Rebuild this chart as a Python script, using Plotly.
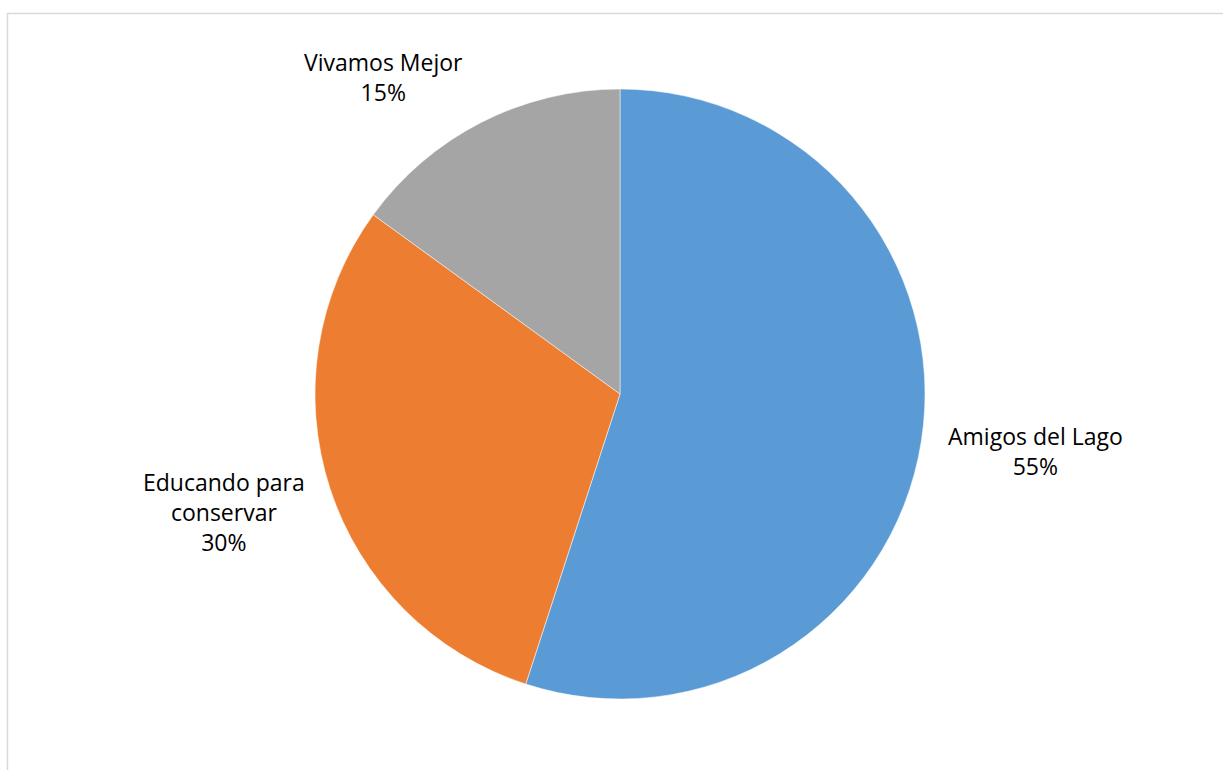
import plotly.graph_objects as go

W, H = 1223, 770

labels = ["Amigos del Lago", "Educando para conservar", "Vivamos Mejor"]
values = [55, 30, 15]
colors = ["#5B9BD5", "#ED7D31", "#A5A5A5"]
# label text as shown in the chart (with line breaks)
label_text = ["Amigos del Lago", "Educando para<br>conservar", "Vivamos Mejor"]

# where the data labels sit (pixels, from top-left)
label_xy = [(1035, 451), (224, 512), (383, 77)]

cx, cy, r = 620, 394, 305

fig = go.Figure()
fig.add_trace(go.Pie(
    labels=labels,
    values=values,
    sort=False,
    direction="clockwise",
    rotation=0,
    marker=dict(colors=colors, line=dict(color="white", width=0.5)),
    textinfo="none",
    hoverinfo="label+percent",
    showlegend=False,
    domain=dict(x=[(cx - r) / W, (cx + r) / W],
                y=[(H - cy - r) / H, (H - cy + r) / H]),
))

total = sum(values)
for txt, v, (px_, py_) in zip(label_text, values, label_xy):
    fig.add_annotation(
        x=px_ / W, y=1 - py_ / H, xref="paper", yref="paper",
        xanchor="center", yanchor="middle",
        text=f"{txt}<br>{round(100 * v / total)}%",
        showarrow=False, align="center",
        font=dict(family="Open Sans", size=23, color="black"),
    )

# chart border (only top and left are visible in the original crop)
fig.add_shape(type="rect", xref="paper", yref="paper",
              x0=7.5 / W, y0=-0.05, x1=1.05, y1=1 - 13.5 / H,
              line=dict(color="#D9D9D9", width=1.5))

fig.update_layout(
    width=W, height=H,
    margin=dict(l=0, r=0, t=0, b=0),
    paper_bgcolor="white",
    plot_bgcolor="white",
)

fig.write_html("out.html", config={"displayModeBar": False},
               post_script="document.body.style.margin='0';")
